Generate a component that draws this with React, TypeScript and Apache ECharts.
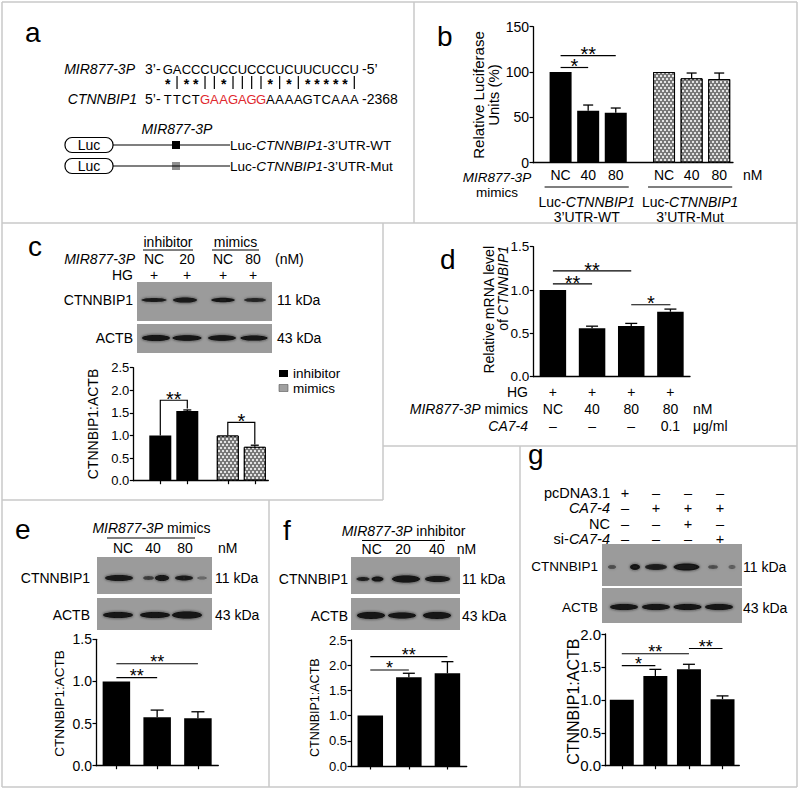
import React, { useEffect, useRef } from "react";
import * as echarts from "echarts";

const FONT = '"Liberation Sans", Arial, Helvetica, sans-serif';

/* ======================= DATA ======================= */
// Panel a – sequence alignment
const mirName = "MIR877-3P";
const geneName = "CTNNBIP1";
const mirSeq = "GACCCUCCUCCCUCUUCUCCU";
const geneSeq = "TTCTGAAGAGGAAAAGTCAAA";
const seedFrom = 4;
const seedTo = 11;
const pairing = "*|**||*||||*|*|*****|";
const genePosition = "-2368";
const constructTypes = ["WT", "Mut"];

// Panel b – luciferase
const bDose = ["NC", "40", "80", "NC", "40", "80"];
const bReporter = ["WT", "WT", "WT", "Mut", "Mut", "Mut"];
const bMean = [100, 57.3, 55.1, 100, 93.1, 92.3];
const bSem = [0, 6.3, 5.2, 0, 5.8, 6.6];
const bSig = [
  { from: 0, to: 1, y: 105, label: "*" },
  { from: 0, to: 2, y: 118, label: "**" },
];
const bTicks = { max: 150, step: 50, decimals: 0 };

// Panel c
const cTreatment = ["inhibitor", "inhibitor", "mimics", "mimics"];
const cDose = ["NC", "20", "NC", "80"];
const cHG = ["+", "+", "+", "+"];
const cMean = [1.0, 1.54, 1.0, 0.75];
const cSem = [0, 0.025, 0, 0.035];
const cSig = [
  { from: 0, to: 1, y: 1.78, legFrom: 1.0, legTo: 1.6, label: "**" },
  { from: 2, to: 3, y: 1.29, legFrom: 1.0, legTo: 0.8, label: "*" },
];
const cTicks = { max: 2.5, step: 0.5, decimals: 1 };

// Panel d
const dHG = ["+", "+", "+", "+"];
const dMimics = ["NC", "40", "80", "80"];
const dCA74 = ["–", "–", "–", "0.1"];
const dMean = [1.0, 0.558, 0.585, 0.75];
const dSem = [0, 0.025, 0.03, 0.03];
const dSig = [
  { from: 0, to: 1, y: 1.07, label: "**" },
  { from: 0, to: 2, y: 1.22, label: "**" },
  { from: 2, to: 3, y: 0.83, label: "*" },
];
const dTicks = { max: 1.5, step: 0.5, decimals: 1 };

// Panel e
const eDose = ["NC", "40", "80"];
const eMean = [1.0, 0.575, 0.563];
const eSem = [0, 0.085, 0.077];
const eSig = [
  { from: 0, to: 1, y: 1.045, label: "**" },
  { from: 0, to: 2, y: 1.21, label: "**" },
];
const eTicks = { max: 1.5, step: 0.5, decimals: 1 };

// Panel f
const fDose = ["NC", "20", "40"];
const fMean = [1.0, 1.76, 1.84];
const fSem = [0, 0.08, 0.23];
const fSig = [
  { from: 0, to: 1, y: 1.905, label: "*" },
  { from: 0, to: 2, y: 2.17, label: "**" },
];
const fTicks = { max: 2.5, step: 0.5, decimals: 1 };

// Panel g
const gRowNames = ["pcDNA3.1", "{i|CA7-4}", "NC", "si-{i|CA7-4}"];
const gDesign = [
  ["+", "–", "–", "–"],
  ["–", "+", "+", "+"],
  ["–", "–", "+", "–"],
  ["–", "–", "–", "+"],
];
const gMean = [1.0, 1.363, 1.465, 1.01];
const gSem = [0, 0.1, 0.075, 0.05];
const gSig = [
  { from: 0, to: 1, y: 1.52, label: "*" },
  { from: 0, to: 2, y: 1.7, label: "**" },
  { from: 2, to: 3, y: 1.78, label: "**" },
];
const gTicks = { max: 2.0, step: 0.5, decimals: 1 };

/* ======================= LAYOUT ======================= */
const LAY: any = {
  b: { grid: { left: 533, top: 26.7, width: 200, height: 136 }, slotCount: 30, slots: [4, 8, 12, 19, 23, 27], barWidth: 22, cap: 10, tickFont: 14, starFont: 20, xTicks: false, xFont: 14, xLH: 14, xMargin: 5 },
  c: { grid: { left: 133.3, top: 367.7, width: 135, height: 113 }, slotCount: 11, slots: [2, 4, 7, 9], barWidth: 22, cap: 8, tickFont: 13, starFont: 20, xTicks: true },
  d: { grid: { left: 533.3, top: 246.7, width: 156.7, height: 130 }, slotCount: 9, slots: [1, 3, 5, 7], barWidth: 26.5, cap: 12, tickFont: 13.5, starFont: 20, xTicks: false, xFont: 14, xLH: 17, xMargin: 6.5 },
  e: { grid: { left: 96, top: 639.3, width: 122.3, height: 126.4 }, slotCount: 7, slots: [1, 3, 5], barWidth: 27.5, cap: 13, tickFont: 14, starFont: 18, xTicks: true },
  f: { grid: { left: 351, top: 640, width: 115.7, height: 126 }, slotCount: 7, slots: [1, 3, 5], barWidth: 25.5, cap: 12, tickFont: 13, starFont: 18, xTicks: true },
  g: { grid: { left: 605, top: 634, width: 134.3, height: 131.7 }, slotCount: 9, slots: [1, 3, 5, 7], barWidth: 24, cap: 12, tickFont: 15, starFont: 18, xTicks: true },
};

const SOLID = { color: "#000" };
const CHECKER = {
  color: "#787878",
  borderColor: "#000",
  borderWidth: 1,
  decal: { symbol: "rect", symbolSize: 1, color: "#e4e4e4", dashArrayX: [[2, 2], [0, 2, 2, 0]], dashArrayY: [2, 0.0001], rotation: 0 },
};
const GROUP_STYLE: any = { WT: SOLID, Mut: CHECKER, inhibitor: SOLID, mimics: CHECKER };

const BORDER = "#c8c8c8";
const BORDERS = [
  [2, 2, 797, 2], [2, 787, 797, 787], [2, 2, 2, 787], [797, 2, 797, 787],
  [414, 2, 414, 223], [2, 223, 797, 223],
  [383, 223, 383, 500], [2, 500, 383, 500],
  [383, 446, 797, 446], [269, 500, 269, 787], [520, 446, 520, 787],
];
const LETTERS: [string, number, number][] = [
  ["a", 25, 32], ["b", 437, 36], ["c", 28, 246], ["d", 440, 259],
  ["e", 15, 529], ["f", 283, 530], ["g", 528, 454],
];

// western blot images (decorative): rect + bands [cx, cy, rx, ry, opacity]
const BLOTS = [
  { x: 137, y: 282, w: 135, h: 39, bands: [[154, 300, 12.5, 2, 0.85], [185, 300, 12, 2.6, 0.95], [223, 300, 11.7, 2.3, 0.9], [255, 300, 11, 2, 0.75]] },
  { x: 137, y: 324, w: 135, h: 29, bands: [[156, 338, 14, 3, 1], [187, 338, 14.5, 2.8, 1], [222, 338, 14, 2.8, 1], [254, 338, 13.5, 2.6, 1]] },
  { x: 97, y: 557, w: 115, h: 37, bands: [[119, 578, 14, 3, 0.95], [148.5, 578, 5.5, 2, 0.6], [162, 578, 7, 3, 0.95], [184, 578, 9, 2.5, 0.85], [202, 578, 5, 1.5, 0.35]] },
  { x: 97, y: 598, w: 115, h: 32, bands: [[118, 615, 15, 3, 1], [155, 615, 15, 3, 1], [187, 615, 15, 3.6, 1]] },
  { x: 351, y: 557, w: 109, h: 37, bands: [[363, 579, 6.5, 2, 0.8], [377.5, 579, 6, 2.6, 0.9], [406, 579, 14, 3.5, 1], [437.5, 579, 12.5, 3, 0.95]] },
  { x: 351, y: 598, w: 109, h: 32, bands: [[371, 615.5, 14, 3.4, 1], [402, 615.5, 14, 3, 1], [437, 615.5, 14, 3.4, 1]] },
  { x: 602, y: 544, w: 140, h: 42, bands: [[612, 567, 4, 2, 0.5], [635, 567, 5, 3, 0.9], [656, 567, 11, 3, 0.8], [686.5, 567, 13, 3.5, 0.9], [713, 567, 5, 2, 0.5], [732, 567, 3.5, 2, 0.4]] },
  { x: 602, y: 588, w: 140, h: 35, bands: [[624, 607, 14, 3, 1], [656, 607, 14, 3, 1], [687.5, 607, 14, 3, 1], [719, 607, 14, 3, 1]] },
];

/* ======================= HELPERS ======================= */
function T(x: number, y: number, text: string, fs = 14, o: any = {}) {
  const base: any = { fontSize: fs, fontFamily: FONT, fill: o.fill || "#000" };
  if (o.lh) base.lineHeight = o.lh;
  if (o.bold) base.fontWeight = "bold";
  return {
    type: "text", x, y, rotation: o.rot || 0, silent: true, z: 20,
    style: {
      text, ...base,
      fontStyle: o.italic ? "italic" : "normal",
      textAlign: o.align || "left",
      verticalAlign: o.va || "middle",
      rich: { i: { ...base, fontStyle: "italic" }, n: { ...base } },
    },
  };
}
function Ln(x1: number, y1: number, x2: number, y2: number, stroke = "#000", w = 1.2) {
  return { type: "line", silent: true, z: 20, shape: { x1, y1, x2, y2 }, style: { stroke, lineWidth: w } };
}
function R(x: number, y: number, w: number, h: number, style: any, r = 0) {
  return { type: "rect", silent: true, z: 15, shape: { x, y, width: w, height: h, r }, style };
}
function slotX(L: any, k: number) {
  return L.grid.left + (L.slots[k] * L.grid.width) / (L.slotCount - 1);
}

/* ======================= OPTION ======================= */
function buildOption() {
  const grid: any[] = [], xAxis: any[] = [], yAxis: any[] = [], series: any[] = [], el: any[] = [];

  const panels = [
    { L: LAY.b, mean: bMean, sem: bSem, sig: bSig, ticks: bTicks, group: bReporter, xLabel: (k: number) => bDose[k] },
    { L: LAY.c, mean: cMean, sem: cSem, sig: cSig, ticks: cTicks, group: cTreatment },
    { L: LAY.d, mean: dMean, sem: dSem, sig: dSig, ticks: dTicks, xLabel: (k: number) => `${dHG[k]}\n${dMimics[k]}\n${dCA74[k]}` },
    { L: LAY.e, mean: eMean, sem: eSem, sig: eSig, ticks: eTicks },
    { L: LAY.f, mean: fMean, sem: fSem, sig: fSig, ticks: fTicks },
    { L: LAY.g, mean: gMean, sem: gSem, sig: gSig, ticks: gTicks },
  ];

  panels.forEach((p: any, gi) => {
    const L = p.L;
    const n = L.slotCount;
    const slotToBar: Record<number, number> = {};
    L.slots.forEach((s: number, k: number) => (slotToBar[s] = k));
    grid.push({ ...L.grid });
    xAxis.push({
      type: "category", gridIndex: gi, boundaryGap: false,
      data: Array.from({ length: n }, (_, i) => String(i)),
      axisLine: { show: true, onZero: false, lineStyle: { color: "#000", width: 1.3 } },
      axisTick: { show: L.xTicks, length: 3.5, interval: (i: number) => slotToBar[i] !== undefined, lineStyle: { color: "#000", width: 1.2 } },
      axisLabel: p.xLabel
        ? { show: true, interval: 0, color: "#000", fontFamily: FONT, fontSize: L.xFont, lineHeight: L.xLH, margin: L.xMargin,
            formatter: (_v: any, i: number) => (slotToBar[i] !== undefined ? p.xLabel(slotToBar[i]) : "") }
        : { show: false },
      splitLine: { show: false },
    });
    yAxis.push({
      type: "value", gridIndex: gi, min: 0, max: p.ticks.max, interval: p.ticks.step,
      axisLine: { show: true, lineStyle: { color: "#000", width: 1.3 } },
      axisTick: { show: true, length: 3.5, lineStyle: { color: "#000", width: 1.2 } },
      axisLabel: { color: "#000", fontFamily: FONT, fontSize: L.tickFont, margin: 4, formatter: (v: number) => v.toFixed(p.ticks.decimals) },
      splitLine: { show: false },
    });
    const groups: string[] = p.group ? Array.from(new Set(p.group as string[])) : ["all"];
    groups.forEach((gname) => {
      const data: any[] = Array(n).fill("-");
      p.mean.forEach((v: number, k: number) => {
        if (!p.group || p.group[k] === gname) data[L.slots[k]] = v;
      });
      series.push({
        type: "bar", name: gname, xAxisIndex: gi, yAxisIndex: gi, data, barWidth: L.barWidth, barGap: "-100%",
        itemStyle: GROUP_STYLE[gname] || SOLID, silent: true, z: 2,
      });
    });
    // error bars (upper whisker)
    series.push({
      type: "custom", xAxisIndex: gi, yAxisIndex: gi, silent: true, z: 5,
      data: p.mean.map((v: number, k: number) => [L.slots[k], v, p.sem[k]]).filter((d: number[]) => d[2] > 0),
      renderItem: (_params: any, api: any) => {
        const s = api.value(0), m = api.value(1), e = api.value(2);
        const a = api.coord([s, m]);
        const b = api.coord([s, m + e]);
        const cw = L.cap / 2;
        return {
          type: "group",
          children: [
            { type: "line", shape: { x1: a[0], y1: a[1], x2: b[0], y2: b[1] }, style: { stroke: "#000", lineWidth: 1.3 } },
            { type: "line", shape: { x1: b[0] - cw, y1: b[1], x2: b[0] + cw, y2: b[1] }, style: { stroke: "#000", lineWidth: 1.3 } },
          ],
        };
      },
    });
    // significance brackets
    series.push({
      type: "custom", xAxisIndex: gi, yAxisIndex: gi, silent: true, z: 6,
      data: p.sig.map((s: any) => [L.slots[s.from], s.y, L.slots[s.to], s.legFrom ?? s.y, s.legTo ?? s.y]),
      renderItem: (params: any, api: any) => {
        const sg = p.sig[params.dataIndex];
        const y = api.value(1);
        const p1 = api.coord([api.value(0), y]);
        const p2 = api.coord([api.value(2), y]);
        const l1 = api.coord([api.value(0), api.value(3)]);
        const l2 = api.coord([api.value(2), api.value(4)]);
        const fs = L.starFont;
        return {
          type: "group",
          children: [
            { type: "polyline", shape: { points: [l1, p1, p2, l2] }, style: { stroke: "#000", lineWidth: 1.2, fill: null } },
            { type: "text", x: (p1[0] + p2[0]) / 2, y: p1[1] - 6 + 0.235 * fs,
              style: { text: sg.label, fontSize: fs, fontFamily: FONT, textAlign: "center", verticalAlign: "middle", fill: "#000" } },
          ],
        };
      },
    });
  });

  /* ---------- graphic: borders, letters ---------- */
  BORDERS.forEach(([x1, y1, x2, y2]) => el.push(Ln(x1, y1, x2, y2, BORDER, 1.5)));
  LETTERS.forEach(([ch, x, y]) => el.push(T(x, y, ch, 28)));

  /* ---------- panel a ---------- */
  const x0 = 167.7, pitch = 9.33;
  el.push(T(135, 69, mirName, 14, { italic: true, align: "right" }));
  el.push(T(145, 69, "3’-", 14));
  for (let i = 0; i < mirSeq.length; i++) el.push(T(x0 + i * pitch, 69, mirSeq[i], 13, { align: "center" }));
  el.push(T(362, 69, "-5’", 14));
  for (let i = 0; i < pairing.length; i++) {
    const x = x0 + i * pitch;
    if (pairing[i] === "*") el.push(T(x, 83.9, "*", 14, { align: "center", bold: true }));
    else el.push(Ln(x, 76, x, 89, "#000", 1.2));
  }
  el.push(T(137, 99, geneName, 14, { italic: true, align: "right" }));
  el.push(T(145, 99, "5’-", 14));
  for (let i = 0; i < geneSeq.length; i++)
    el.push(T(x0 + i * pitch, 99, geneSeq[i], 13, { align: "center", fill: i >= seedFrom && i < seedTo ? "#e0282e" : "#000" }));
  el.push(T(362, 99, genePosition, 14));
  [145, 166].forEach((cy, k) => {
    el.push({ type: "rect", silent: true, z: 15, shape: { x: 65, y: cy - 7.5, width: 48, height: 15, r: 7 }, style: { fill: "#fff", stroke: "#000", lineWidth: 1.2 } });
    el.push(T(89, cy, "Luc", 14, { align: "center" }));
    el.push(Ln(113, cy, 230, cy));
    el.push(R(172, cy - 4, 8, 8, { fill: k === 0 ? "#000" : "#8f8f8f" }));
    el.push(T(230, cy, `Luc-{i|${geneName}}-3’UTR-${constructTypes[k]}`, 13.5));
  });
  el.push(T(177, 129, mirName, 14, { italic: true, align: "center" }));

  /* ---------- panel b ---------- */
  el.push(T(485.5, 95, "Relative Luciferase\nUnits (%)", 15, { rot: Math.PI / 2, align: "center", lh: 15 }));
  el.push(T(497, 185.2, `{i|${mirName}}\nmimics`, 13.5, { align: "center", lh: 14.5 }));
  el.push(T(743, 175, "nM", 14));
  constructTypes.forEach((ct) => {
    const ks = bReporter.map((r, k) => (r === ct ? k : -1)).filter((k) => k >= 0);
    const xa = slotX(LAY.b, ks[0]) - 16, xb = slotX(LAY.b, ks[ks.length - 1]) + 13;
    el.push(Ln(xa, 187, xb, 187));
    el.push(T((xa + xb) / 2, 209.2, `Luc-{i|${geneName}}\n3’UTR-${ct}`, 14, { align: "center", lh: 15 }));
  });

  /* ---------- panel c ---------- */
  const cLanes = [154, 187, 223, 253];
  Array.from(new Set(cTreatment)).forEach((t) => {
    const ks = cTreatment.map((r, k) => (r === t ? k : -1)).filter((k) => k >= 0);
    const xa = cLanes[ks[0]] - 11, xb = cLanes[ks[ks.length - 1]] + 6;
    el.push(T((xa + xb) / 2, 241.7, t, 14, { align: "center" }));
    el.push(Ln(xa, 250, xb, 250));
  });
  el.push(T(135, 259, `{i|${mirName}}`, 14, { align: "right" }));
  cDose.forEach((d, k) => el.push(T(cLanes[k], 259, d, 14, { align: "center" })));
  el.push(T(275, 259, "(nM)", 14));
  el.push(T(133, 275, "HG", 14, { align: "right" }));
  cHG.forEach((d, k) => el.push(T(cLanes[k], 275, d, 14, { align: "center" })));
  el.push(T(133, 300, geneName, 14, { align: "right" }));
  el.push(T(277, 300, "11 kDa", 14));
  el.push(T(133, 338, "ACTB", 14, { align: "right" }));
  el.push(T(277, 338, "43 kDa", 14));
  el.push(T(93.3, 424, `${geneName}:ACTB`, 14, { rot: Math.PI / 2, align: "center" }));
  Array.from(new Set(cTreatment)).forEach((t, k) => {
    const y = 370 + k * 14.5;
    el.push(R(279, y, 9, 7, GROUP_STYLE[t] === SOLID ? { fill: "#000" } : { fill: "#a0a0a0", stroke: "#555", lineWidth: 0.6 }));
    el.push(T(293, y + 3.5, t, 13.5));
  });

  /* ---------- panel d ---------- */
  el.push(T(496, 246, `Relative mRNA level\nof {i|${geneName}}`, 14, { rot: Math.PI / 2, align: "right", lh: 14 }));
  el.push(T(528, 392, "HG", 14, { align: "right" }));
  el.push(T(528, 409, `{i|${mirName}} mimics`, 14, { align: "right" }));
  el.push(T(528, 426, "{i|CA7-4}", 14, { align: "right" }));
  el.push(T(693, 409, "nM", 14));
  el.push(T(693, 426, "μg/ml", 14));

  /* ---------- panel e ---------- */
  const eLanes = [123, 153, 185];
  el.push(T(151.5, 528, `{i|${mirName}} mimics`, 14, { align: "center" }));
  el.push(Ln(107, 538, 195, 538));
  eDose.forEach((d, k) => el.push(T(eLanes[k], 548, d, 14, { align: "center" })));
  el.push(T(218, 548, "nM", 14));
  el.push(T(90, 578, geneName, 14, { align: "right" }));
  el.push(T(215, 578, "11 kDa", 14));
  el.push(T(90, 615, "ACTB", 14, { align: "right" }));
  el.push(T(215, 615, "43 kDa", 14));
  el.push(T(59.3, 703.6, `${geneName}:ACTB`, 13.5, { rot: Math.PI / 2, align: "center" }));

  /* ---------- panel f ---------- */
  const fLanes = [371.7, 403, 436.7];
  el.push(T(403.5, 531, `{i|${mirName}} inhibitor`, 14, { align: "center" }));
  el.push(Ln(362, 540.5, 445, 540.5));
  fDose.forEach((d, k) => el.push(T(fLanes[k], 549, d, 14, { align: "center" })));
  el.push(T(456.7, 549, "nM", 14));
  el.push(T(348, 579, geneName, 14, { align: "right" }));
  el.push(T(462, 579, "11 kDa", 14));
  el.push(T(348, 615.7, "ACTB", 14, { align: "right" }));
  el.push(T(462, 615.7, "43 kDa", 14));
  el.push(T(315, 707.7, `${geneName}:ACTB`, 12.5, { rot: Math.PI / 2, align: "center" }));

  /* ---------- panel g ---------- */
  const gCols = [625, 656, 688, 720];
  const gRowsY = [492.8, 508.2, 523.6, 539];
  gRowNames.forEach((r, i) => {
    el.push(T(610, gRowsY[i], r, 14.5, { align: "right", lh: 14 }));
    gDesign[i].forEach((s, j) => el.push(T(gCols[j], gRowsY[i], s, 14.5, { align: "center", lh: 14 })));
  });
  el.push(T(598, 566.7, geneName, 13.5, { align: "right" }));
  el.push(T(743, 566.7, "11 kDa", 14));
  el.push(T(598, 607.7, "ACTB", 13.5, { align: "right" }));
  el.push(T(743, 607.7, "43 kDa", 14));
  el.push(T(573.3, 701.7, `${geneName}:ACTB`, 16, { rot: Math.PI / 2, align: "center" }));

  /* ---------- blots ---------- */
  BLOTS.forEach((b) => {
    el.push(R(b.x, b.y, b.w, b.h, { fill: "#9b9b9b" }));
    b.bands.forEach(([cx, cy, rx, ry, op]) =>
      el.push({
        type: "ellipse", silent: true, z: 16,
        shape: { cx, cy, rx, ry },
        style: { fill: `rgba(18,18,18,${op})`, shadowBlur: 3, shadowColor: `rgba(18,18,18,${op * 0.9})` },
      })
    );
  });

  return {
    animation: false,
    backgroundColor: "#fff",
    textStyle: { fontFamily: FONT },
    grid, xAxis, yAxis, series,
    graphic: { elements: el },
  };
}

export default function App() {
  const ref = useRef<HTMLDivElement>(null);
  useEffect(() => {
    document.body.style.margin = "0";
    const chart = echarts.init(ref.current!, null, { renderer: "svg" });
    chart.setOption(buildOption() as any);
    return () => chart.dispose();
  }, []);
  return <div ref={ref} style={{ width: 800, height: 789, background: "#fff" }} />;
}
